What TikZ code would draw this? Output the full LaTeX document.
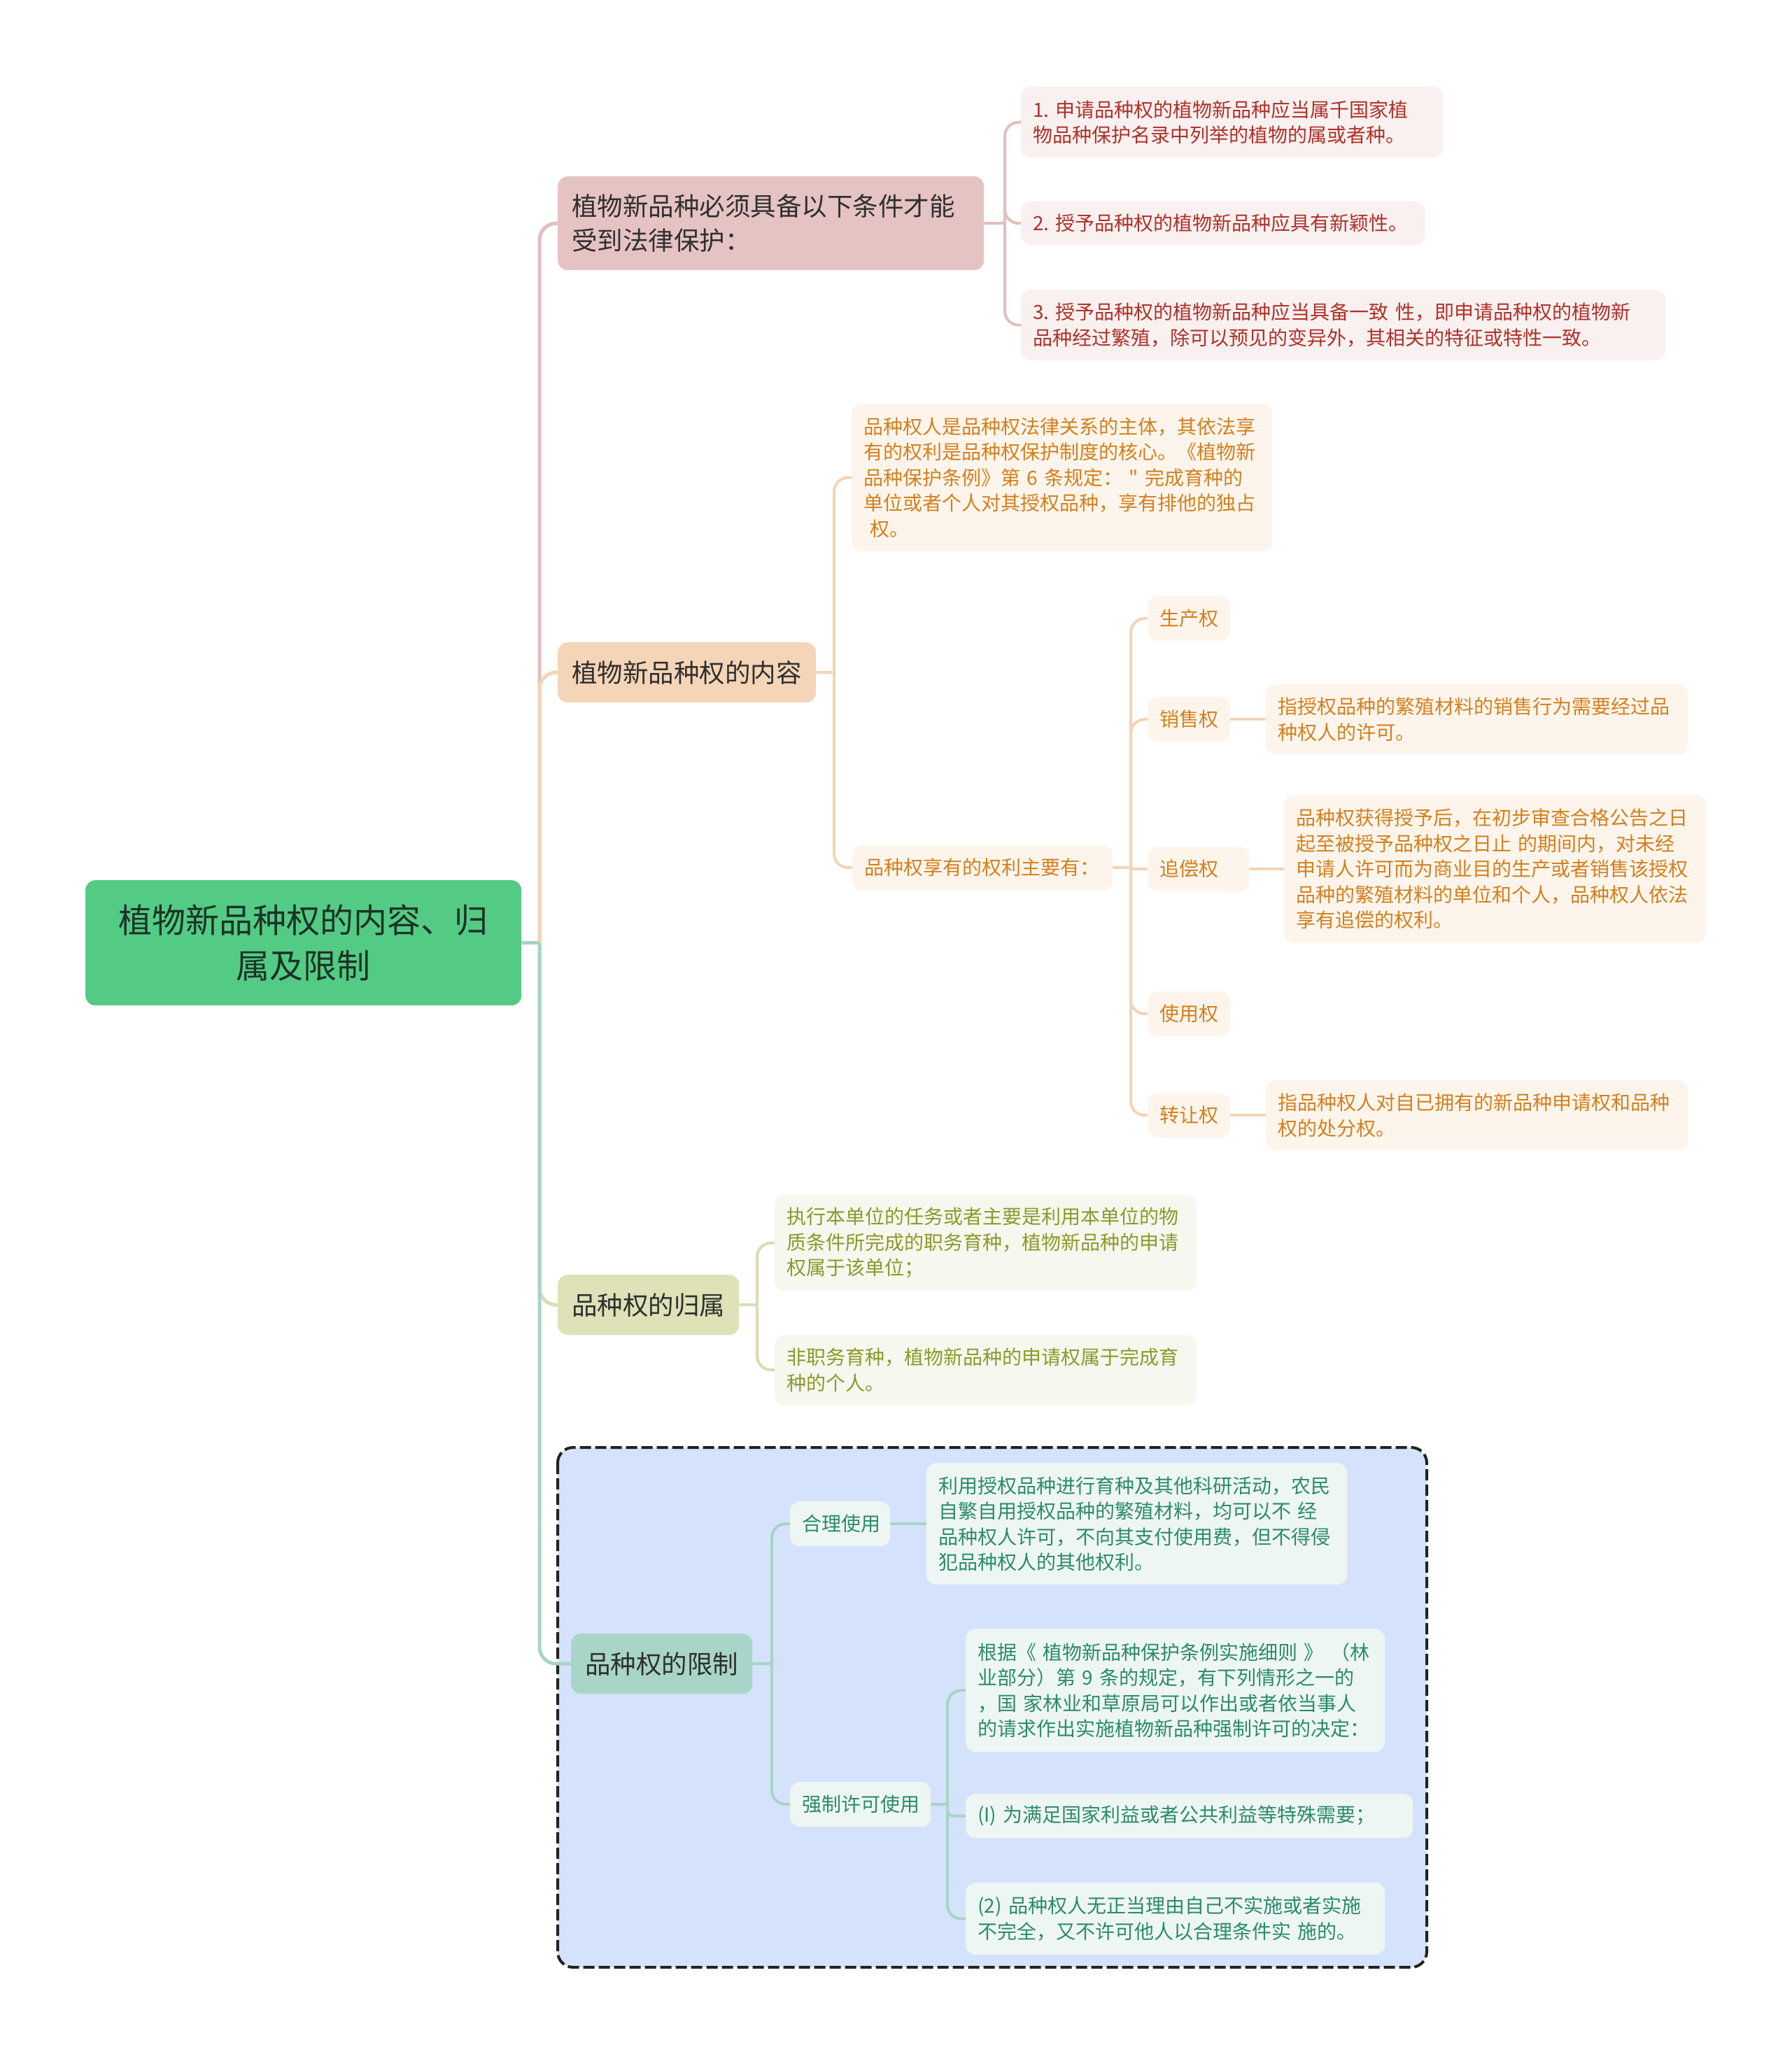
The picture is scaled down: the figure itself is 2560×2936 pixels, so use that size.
\documentclass[tikz,border=0pt]{standalone}
\usepackage{fontspec}
\setmainfont{Noto Sans CJK SC}
\newfontfamily\plainfont{Noto Sans CJK SC}
\definecolor{rootfill}{HTML}{54CB84}
\definecolor{roottext}{HTML}{1C3327}
\definecolor{darktext}{HTML}{2F2F2F}
\definecolor{nafill}{HTML}{E6C3C3}
\definecolor{nbfill}{HTML}{F5D5B7}
\definecolor{ncfill}{HTML}{DFE1B7}
\definecolor{ndfill}{HTML}{A8D5C7}
\definecolor{pinkc}{HTML}{F9F0F0}
\definecolor{peachc}{HTML}{FDF5EC}
\definecolor{olivec}{HTML}{F6F7EE}
\definecolor{tealc}{HTML}{EEF6F4}
\definecolor{redt}{HTML}{AD3229}
\definecolor{oranget}{HTML}{D2801E}
\definecolor{olivet}{HTML}{8A9A2B}
\definecolor{tealt}{HTML}{2B8B6B}
\definecolor{pinkl}{HTML}{E3BEBE}
\definecolor{peachl}{HTML}{F2D4B6}
\definecolor{olivel}{HTML}{D9DCB5}
\definecolor{teall}{HTML}{A7D4C6}
\definecolor{bluebox}{HTML}{D4E3FB}
\definecolor{boxedge}{HTML}{222222}
\pgfdeclarelayer{back}
\pgfdeclarelayer{mid}
\pgfsetlayers{back,mid,main}
\begin{document}
\begin{tikzpicture}[x=1pt,y=-1pt,
  base/.style={rectangle, rounded corners=14pt, inner ysep=0pt, anchor=north west, align=left},
  rootbox/.style={base, fill=rootfill, text=roottext, font=\fontsize{48}{65.5}\selectfont, inner xsep=31.5pt, text width=560pt, align=center},
  lone/.style={base, inner xsep=20pt, text=darktext, font=\fontsize{36.5}{48.7}\selectfont},
  kid/.style={base, inner xsep=17pt, font=\fontsize{28}{36.5}\selectfont},
  redk/.style={kid, fill=pinkc, text=redt},
  orak/.style={kid, fill=peachc, text=oranget},
  olik/.style={kid, fill=olivec, text=olivet},
  teak/.style={kid, fill=tealc, text=tealt},
  ln/.style={line width=4pt},
  trunk/.style={line width=5pt, rounded corners=24pt},
  sub/.style={line width=4pt, rounded corners=20pt}
]
\useasboundingbox (0,0) rectangle (2560,2936);

% root
\node[rootbox, minimum height=179pt] (root) at (122,1258) {植物新品种权的内容、归\\属及限制};

% level 1
\node[lone, fill=nafill, text width=569pt, minimum height=134pt] (n1) at (797,252) {植物新品种必须具备以下条件才能\\受到法律保护：};
\node[lone, fill=nbfill, text width=329pt, minimum height=86pt] (n2) at (797,918) {植物新品种权的内容};
\node[lone, fill=ncfill, text width=219pt, minimum height=86pt] (n3) at (797,1822) {品种权的归属};
\node[lone, fill=ndfill, text width=219pt, minimum height=86pt] (n4) at (816,2335) {品种权的限制};

% node 1 children
\node[redk, text width=569pt, minimum height=101pt] (c1) at (1459,124) {1.~申请品种权的植物新品种应当属千国家植\\物品种保护名录中列举的植物的属或者种。};
\node[redk, text width=543pt, minimum height=63pt] (c2) at (1459,287.5) {2.~授予品种权的植物新品种应具有新颖性。};
\node[redk, text width=887pt, minimum height=101pt] (c3) at (1459,414) {3.~授予品种权的植物新品种应当具备一致~性，即申请品种权的植物新\\品种经过繁殖，除可以预见的变异外，其相关的特征或特性一致。};

% node 2 children
\node[orak, text width=567pt, minimum height=211pt] (p1) at (1217,577) {品种权人是品种权法律关系的主体，其依法享\\有的权利是品种权保护制度的核心。《植物新\\品种保护条例》第~6~条规定：~{\plainfont"}~完成育种的\\单位或者个人对其授权品种，享有排他的独占\\~权。};
\node[orak, text width=338pt, minimum height=65pt] (p2) at (1218,1207.5) {品种权享有的权利主要有：};

\node[orak, text width=84pt, minimum height=64pt] (k1) at (1640,852) {生产权};
\node[orak, text width=84pt, minimum height=64pt] (k2) at (1640,996) {销售权};
\node[orak, text width=111pt, minimum height=64pt] (k3) at (1640,1210) {追偿权};
\node[orak, text width=84pt, minimum height=64pt] (k4) at (1640,1417) {使用权};
\node[orak, text width=84pt, minimum height=64pt] (k5) at (1640,1562) {转让权};

\node[orak, text width=569pt, minimum height=100pt] (d2) at (1809,978) {指授权品种的繁殖材料的销售行为需要经过品\\种权人的许可。};
\node[orak, text width=569pt, minimum height=212pt] (d3) at (1835,1136) {品种权获得授予后，在初步审查合格公告之日\\起至被授予品种权之日止~的期间内，对未经\\申请人许可而为商业目的生产或者销售该授权\\品种的繁殖材料的单位和个人，品种权人依法\\享有追偿的权利。};
\node[orak, text width=569pt, minimum height=100pt] (d5) at (1809,1544) {指品种权人对自已拥有的新品种申请权和品种\\权的处分权。};

% node 3 children
\node[olik, text width=569pt, minimum height=137pt] (o1) at (1107,1708) {执行本单位的任务或者主要是利用本单位的物\\质条件所完成的职务育种，植物新品种的申请\\权属于该单位；};
\node[olik, text width=569pt, minimum height=100pt] (o2) at (1107,1908) {非职务育种，植物新品种的申请权属于完成育\\种的个人。};

% dashed frame
\begin{pgfonlayer}{back}
\path[fill=bluebox, draw=boxedge, line width=4pt, dash pattern=on 16pt off 6pt, rounded corners=22pt] (797,2069) rectangle (2039,2812);
\end{pgfonlayer}

% node 4 children
\node[teak, text width=109pt, minimum height=64pt] (q1) at (1129,2146) {合理使用};
\node[teak, text width=167pt, minimum height=64pt] (q2) at (1129,2547) {强制许可使用};
\node[teak, text width=567pt, minimum height=174pt] (qa) at (1324,2091) {利用授权品种进行育种及其他科研活动，农民\\自繁自用授权品种的繁殖材料，均可以不~经\\品种权人许可，不向其支付使用费，但不得侵\\犯品种权人的其他权利。};
\node[teak, text width=565pt, minimum height=176pt] (qb) at (1380,2328) {根据《~植物新品种保护条例实施细则~》~（林\\业部分）第~9~条的规定，有下列情形之一的\\，国~家林业和草原局可以作出或者依当事人\\的请求作出实施植物新品种强制许可的决定：};
\node[teak, text width=605pt, minimum height=63pt] (qc) at (1380,2564) {(I)~为满足国家利益或者公共利益等特殊需要；};
\node[teak, text width=565pt, minimum height=103pt] (qd) at (1380,2691) {(2)~品种权人无正当理由自己不实施或者实施\\不完全，又不许可他人以合理条件实~施的。};

% junctions
\coordinate (jr) at (771,1347.5);
\coordinate (j1) at (1436,319);
\coordinate (j2) at (1192,961);
\coordinate (jp) at (1616,1240);
\coordinate (j3) at (1082,1865);
\coordinate (j4) at (1103,2378);
\coordinate (jq) at (1354,2579);

\begin{pgfonlayer}{mid}
% root trunk
\draw[trunk, pinkl] (jr) |- (n1.west);
\draw[trunk, peachl] (jr) |- (n2.west);
\draw[trunk, olivel] (jr) |- (n3.west);
\draw[trunk, teall] (jr) |- (n4.west);
\draw[line width=5pt, teall] (root.east) -- (jr);
% node 1
\draw[ln, pinkl] (n1.east) -- (j1);
\draw[sub, pinkl] (j1) |- (c1.west);
\draw[sub, pinkl] (j1) |- (c2.west);
\draw[sub, pinkl] (j1) |- (c3.west);
% node 2
\draw[ln, peachl] (n2.east) -- (j2);
\draw[sub, peachl] (j2) |- (p1.west);
\draw[sub, peachl] (j2) |- (p2.west);
\draw[ln, peachl] (p2.east) -- (jp);
\draw[sub, peachl] (jp) |- (k1.west);
\draw[sub, peachl] (jp) |- (k2.west);
\draw[line width=4pt, rounded corners=4pt, peachl] (jp) |- (k3.west);
\draw[sub, peachl] (jp) |- (k4.west);
\draw[sub, peachl] (jp) |- (k5.west);
\draw[ln, peachl] (k2.east) -- (d2.west);
\draw[ln, peachl] (k3.east) -- (d3.west);
\draw[ln, peachl] (k5.east) -- (d5.west);
% node 3
\draw[ln, olivel] (n3.east) -- (j3);
\draw[sub, olivel] (j3) |- (o1.west);
\draw[sub, olivel] (j3) |- (o2.west);
% node 4
\draw[ln, teall] (n4.east) -- (j4);
\draw[sub, teall] (j4) |- (q1.west);
\draw[sub, teall] (j4) |- (q2.west);
\draw[ln, teall] (q1.east) -- (qa.west);
\draw[ln, teall] (q2.east) -- (jq);
\draw[sub, teall] (jq) |- (qb.west);
\draw[line width=4pt, rounded corners=8pt, teall] (jq) |- (qc.west);
\draw[sub, teall] (jq) |- (qd.west);
\end{pgfonlayer}
\end{tikzpicture}
\end{document}
